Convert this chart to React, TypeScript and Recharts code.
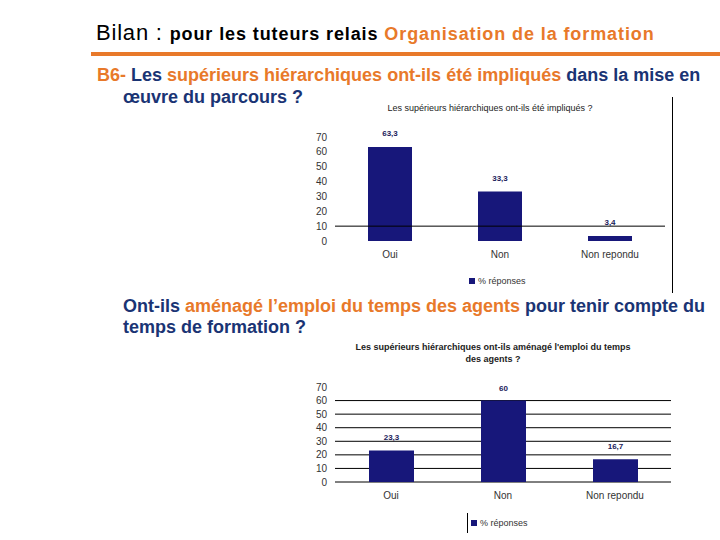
import React from "react";
import {
  BarChart,
  Bar,
  XAxis,
  YAxis,
  CartesianGrid,
  ReferenceLine,
  LabelList,
} from "recharts";

const categories = ["Oui", "Non", "Non repondu"];
const impliquesValues = [63.3, 33.3, 3.4];
const amenageValues = [23.3, 60, 16.7];
const yTicks = [0, 10, 20, 30, 40, 50, 60, 70];
const gridValues2 = [0, 10, 20, 30, 40, 50, 60];
const seriesName = "% réponses";

const data1 = categories.map((c, i) => ({ cat: c, value: impliquesValues[i] }));
const data2 = categories.map((c, i) => ({ cat: c, value: amenageValues[i] }));

const ORANGE = "#e8792a";
const NAVY = "#1a3474";
const BAR = "#17177a";
const FONT = "'Liberation Sans', Arial, sans-serif";

const fmt = (v: any) => String(v).replace(".", ",");

const tickStyle = { fontSize: 10, fill: "#333", fontFamily: FONT };
const labelStyle = { fontSize: 8, fontWeight: "bold", fill: "#1a1a5a", fontFamily: FONT };

const Legend = ({ left, top, bar }: { left: number; top: number; bar?: boolean }) => (
  <div style={{ position: "absolute", left, top, display: "flex", alignItems: "center", fontSize: 9, fontFamily: FONT, color: "#333" }}>
    {bar && <div style={{ width: 1, height: 20, background: "#000", marginRight: 3 }} />}
    <div style={{ width: 6, height: 6, background: BAR, marginRight: 3 }} />
    <span>{seriesName}</span>
  </div>
);

const App = () => {
  return (
    <div style={{ position: "fixed", left: 0, top: 0, width: 720, height: 540, background: "#fff", fontFamily: FONT, overflow: "hidden" }}>
      {/* slide title */}
      <div style={{ position: "absolute", left: 96, top: 19, whiteSpace: "nowrap", lineHeight: "28px" }}>
        <span style={{ fontSize: 22, color: "#000", letterSpacing: 0.8 }}>Bilan : </span>
        <span style={{ fontSize: 18, fontWeight: "bold", color: "#000", letterSpacing: 0.9 }}>pour les tuteurs relais </span>
        <span style={{ fontSize: 18, fontWeight: "bold", color: ORANGE, letterSpacing: 0.9 }}>Organisation de la formation</span>
      </div>
      <div style={{ position: "absolute", left: 91, top: 52, width: 629, height: 4, background: ORANGE }} />

      {/* question B6 */}
      <div style={{ position: "absolute", left: 97, top: 64, fontSize: 18, fontWeight: "bold", lineHeight: "22px", whiteSpace: "nowrap" }}>
        <span style={{ color: ORANGE }}>B6- </span>
        <span style={{ color: NAVY }}>Les </span>
        <span style={{ color: ORANGE }}>supérieurs hiérarchiques ont-ils été impliqués </span>
        <span style={{ color: NAVY }}>dans la mise en</span>
        <br />
        <span style={{ color: NAVY, marginLeft: 26 }}>œuvre du parcours ?</span>
      </div>

      {/* chart 1 */}
      <div style={{ position: "absolute", left: 290, top: 103, width: 400, textAlign: "center", fontSize: 9, color: "#222" }}>
        Les supérieurs hiérarchiques ont-ils été impliqués ?
      </div>
      <div style={{ position: "absolute", left: 672, top: 97, width: 1, height: 196, background: "#000" }} />
      <div style={{ position: "absolute", left: 290, top: 100 }}>
        <BarChart width={380} height={200} data={data1} margin={{ top: 37, right: 5, left: 0, bottom: 39 }}>
          <XAxis dataKey="cat" axisLine={false} tickLine={false} tick={tickStyle} tickMargin={4} height={20} interval={0} />
          <YAxis domain={[0, 70]} ticks={yTicks} axisLine={false} tickLine={false} tick={tickStyle} width={45} interval={0} />
          <ReferenceLine y={10} stroke="#000" strokeWidth={1} />
          <Bar dataKey="value" fill={BAR} barSize={44} isAnimationActive={false}>
            <LabelList dataKey="value" position="top" offset={11} formatter={fmt} style={labelStyle} />
          </Bar>
        </BarChart>
      </div>
      <Legend left={469} top={276} />

      {/* second question */}
      <div style={{ position: "absolute", left: 123, top: 296, fontSize: 18, fontWeight: "bold", lineHeight: "21px", whiteSpace: "nowrap" }}>
        <span style={{ color: NAVY }}>Ont-ils </span>
        <span style={{ color: ORANGE }}>aménagé l’emploi du temps des agents </span>
        <span style={{ color: NAVY }}>pour tenir compte du</span>
        <br />
        <span style={{ color: NAVY }}>temps de formation ?</span>
      </div>

      {/* chart 2 */}
      <div style={{ position: "absolute", left: 293, top: 341, width: 400, textAlign: "center", fontSize: 9, fontWeight: "bold", color: "#222", lineHeight: "12px" }}>
        Les supérieurs hiérarchiques ont-ils aménagé l'emploi du temps
        <br />
        des agents ?
      </div>
      <div style={{ position: "absolute", left: 290, top: 370 }}>
        <BarChart width={390} height={150} data={data2} margin={{ top: 17, right: 9, left: 0, bottom: 18 }}>
          <CartesianGrid vertical={false} horizontalValues={gridValues2} stroke="#000" strokeWidth={1} />
          <XAxis dataKey="cat" axisLine={false} tickLine={false} tick={tickStyle} tickMargin={4} height={20} interval={0} />
          <YAxis domain={[0, 70]} ticks={yTicks} axisLine={false} tickLine={false} tick={tickStyle} width={45} interval={0} />
          <Bar dataKey="value" fill={BAR} barSize={45} isAnimationActive={false}>
            <LabelList dataKey="value" position="top" offset={10} formatter={fmt} style={labelStyle} />
          </Bar>
        </BarChart>
      </div>
      <Legend left={467} top={513} bar />
    </div>
  );
};

export default App;
